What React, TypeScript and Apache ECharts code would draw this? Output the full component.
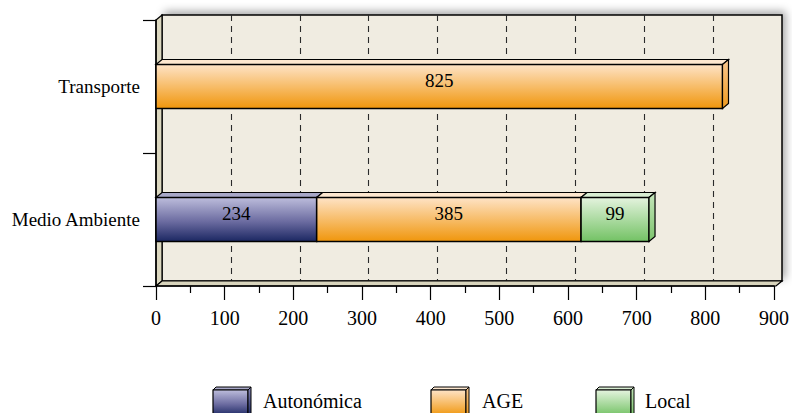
import React, { useEffect, useRef } from 'react';
import * as echarts from 'echarts';

const categories = ['Medio Ambiente', 'Transporte'];
const seriesNames = ['Autonómica', 'AGE', 'Local'];
const autonomica = [234, 0];
const age = [385, 825];
const local = [99, 0];
const seriesValues = [autonomica, age, local];
const axisMin = 0;
const axisMax = 900;
const axisInterval = 100;

const FONT = "'Liberation Serif', 'Times New Roman', serif";

const palettes = [
  { front: [['#bdbddc', 0], ['#6b6ba0', 0.55], ['#1b2762', 1]], top: '#a8a8c8', side: [['#8888b6', 0], ['#1b2762', 1]] },
  { front: [['#fee3c6', 0], ['#f0960c', 1]], top: '#fde7cf', side: [['#f9c790', 0], ['#ee9a1e', 1]] },
  { front: [['#e4f3de', 0], ['#73c264', 1]], top: '#d8edd2', side: [['#c5e5bb', 0], ['#7cc46c', 1]] },
];

const grad = (stops: any[]) =>
  new echarts.graphic.LinearGradient(0, 0, 0, 1, stops.map(([c, o]) => ({ offset: o, color: c })));

const BAR_H = 44;
const DX = 6;
const DY = 5;

function buildData(si: number) {
  const rows: any[] = [];
  categories.forEach((_, ci) => {
    let start = 0;
    for (let k = 0; k < si; k++) start += seriesValues[k][ci];
    const val = seriesValues[si][ci];
    if (!val) return;
    let isLast = 1;
    for (let k = si + 1; k < seriesValues.length; k++) if (seriesValues[k][ci]) isLast = 0;
    rows.push([start, start + val, ci, isLast, val]);
  });
  return rows;
}

export default function App() {
  const ref = useRef<HTMLDivElement>(null);
  useEffect(() => {
    if (!ref.current) return;
    const chart = echarts.init(ref.current, null, { renderer: 'svg' });

    const series = seriesNames.map((name, si) => ({
      type: 'custom',
      name,
      xAxisIndex: 1,
      yAxisIndex: 1,
      z: 5,
      encode: { x: [0, 1], y: 2 },
      data: buildData(si),
      renderItem: (params: any, api: any) => {
        const start = api.value(0);
        const end = api.value(1);
        const cat = api.value(2);
        const isLast = api.value(3);
        const val = api.value(4);
        const p0 = api.coord([start, cat]);
        const p1 = api.coord([end, cat]);
        const x0 = p0[0];
        const x1 = p1[0];
        const yTop = p0[1] - BAR_H / 2;
        const pal = palettes[si];
        const children: any[] = [
          {
            type: 'polygon',
            shape: { points: [[x0, yTop], [x1, yTop], [x1 + DX, yTop - DY], [x0 + DX, yTop - DY]] },
            style: { fill: pal.top, stroke: '#000', lineWidth: 1.2 },
          },
          {
            type: 'rect',
            shape: { x: x0, y: yTop, width: x1 - x0, height: BAR_H },
            style: { fill: grad(pal.front), stroke: '#000', lineWidth: 1.5 },
          },
        ];
        if (isLast) {
          children.push({
            type: 'polygon',
            shape: { points: [[x1, yTop], [x1 + DX, yTop - DY], [x1 + DX, yTop + BAR_H - DY], [x1, yTop + BAR_H]] },
            style: { fill: grad(pal.side), stroke: '#000', lineWidth: 1.2 },
          });
        }
        children.push({
          type: 'text',
          style: {
            text: String(val),
            x: (x0 + x1) / 2,
            y: p0[1] - 6,
            align: 'center',
            verticalAlign: 'middle',
            fontSize: 19,
            fontFamily: FONT,
            fill: '#000',
          },
        });
        return { type: 'group', children };
      },
    }));

    const legendIconX = [213, 431, 596];
    const legendTextX = [263, 482, 645];
    const legendGraphics: any[] = [];
    seriesNames.forEach((name, i) => {
      const x = legendIconX[i];
      const pal = palettes[i];
      legendGraphics.push(
        { type: 'polygon', z: 10, shape: { points: [[x, 390], [x + 35, 390], [x + 38, 387], [x + 3, 387]] }, style: { fill: pal.top, stroke: '#000', lineWidth: 1 } },
        { type: 'rect', z: 10, shape: { x, y: 390, width: 35, height: 26 }, style: { fill: grad(pal.front), stroke: '#000', lineWidth: 1.2 } },
        { type: 'polygon', z: 10, shape: { points: [[x + 35, 390], [x + 38, 387], [x + 38, 413], [x + 35, 416]] }, style: { fill: grad(pal.side), stroke: '#000', lineWidth: 1 } },
        { type: 'text', z: 10, x: legendTextX[i], y: 401, style: { text: name, fontSize: 20, fontFamily: FONT, fill: '#000', verticalAlign: 'middle', align: 'left' } },
      );
    });

    chart.setOption({
      animation: false,
      backgroundColor: '#ffffff',
      grid: [
        {
          left: 162, right: 10, top: 15, bottom: 132,
          show: true, backgroundColor: '#f0ece1', borderColor: '#000', borderWidth: 1.5,
          shadowColor: 'rgba(0,0,0,0.35)', shadowBlur: 8, shadowOffsetX: 3, shadowOffsetY: -3,
        },
        { left: 156, right: 16, top: 20, bottom: 127 },
      ],
      xAxis: [
        {
          gridIndex: 0, type: 'value', min: axisMin, max: axisMax, interval: axisInterval,
          axisLine: { show: false }, axisTick: { show: false }, axisLabel: { show: false },
          splitLine: { show: true, showMinLine: false, showMaxLine: false, lineStyle: { color: '#2a2a2a', type: [6, 5], width: 1.1 } },
        },
        {
          gridIndex: 1, type: 'value', min: axisMin, max: axisMax, interval: axisInterval, z: 4,
          axisLine: { show: true, lineStyle: { color: '#000', width: 1.5 } },
          axisTick: { show: true, length: 14, lineStyle: { color: '#000', width: 1.2 } },
          minorTick: { show: true, splitNumber: 2, length: 7, lineStyle: { color: '#000', width: 1.2 } },
          splitLine: { show: false },
          axisLabel: { color: '#000', fontSize: 20, fontFamily: FONT, margin: 22 },
        },
      ],
      yAxis: [
        { gridIndex: 0, type: 'category', data: categories, show: false },
        {
          gridIndex: 1, type: 'category', data: categories, z: 4,
          axisLine: { show: true, lineStyle: { color: '#000', width: 1.5 } },
          axisTick: { show: true, length: 13, lineStyle: { color: '#000', width: 1.2 } },
          splitLine: { show: false },
          axisLabel: { color: '#000', fontSize: 19, fontFamily: FONT, margin: 16 },
        },
      ],
      graphic: [
        {
          type: 'polygon', z: 1,
          shape: { points: [[156, 20], [162, 15], [162, 281], [156, 286]] },
          style: { fill: '#dcd8c0', stroke: '#000', lineWidth: 1.2 },
        },
        {
          type: 'polygon', z: 1,
          shape: { points: [[156, 286], [162, 281], [782, 281], [776, 286]] },
          style: { fill: '#d8d4bc', stroke: '#000', lineWidth: 1.2 },
        },
        ...legendGraphics,
      ],
      series,
    });
    return () => chart.dispose();
  }, []);
  return <div ref={ref} style={{ position: 'absolute', left: 0, top: 0, width: 792, height: 413 }} />;
}
